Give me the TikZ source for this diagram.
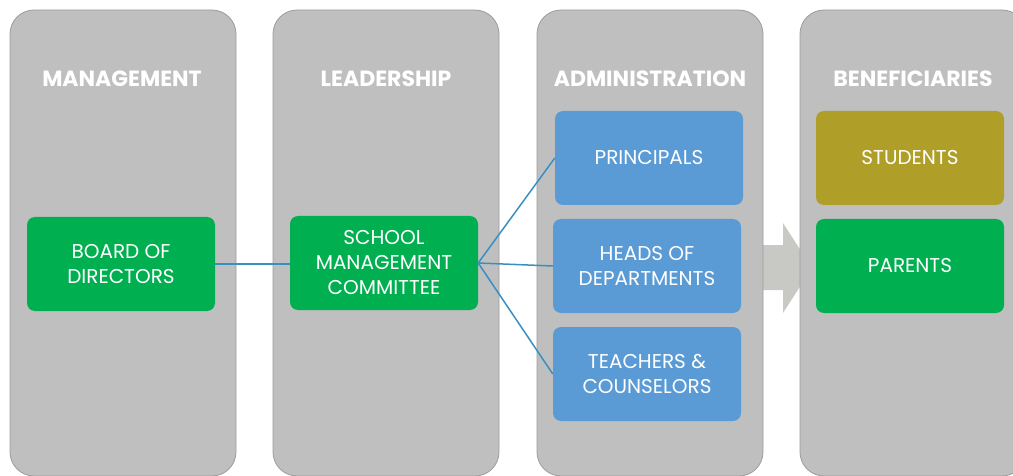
\documentclass[tikz,border=0pt]{standalone}
\usepackage{fontspec}
\setmainfont{Poppins}
\definecolor{colgray}{HTML}{BFBFBF}
\definecolor{coledge}{HTML}{9C9C9C}
\definecolor{arrgray}{HTML}{C8C8C4}
\definecolor{boxgreen}{HTML}{00B050}
\definecolor{boxblue}{HTML}{5B9BD5}
\definecolor{boxolive}{HTML}{AF9F29}
\definecolor{linkblue}{HTML}{3A8FC2}
\begin{document}
\begin{tikzpicture}[x=1pt,y=-1pt,
  col/.style={fill=colgray,draw=coledge,line width=0.8pt,rounded corners=24pt},
  head/.style={text=white,font=\bfseries\fontsize{22}{24}\selectfont},
  box/.style={rounded corners=8pt,minimum width=188pt,minimum height=94pt,
    inner sep=0pt,text=white,align=center,font=\fontsize{20}{25}\selectfont},
  link/.style={draw=linkblue,line width=1.5pt}]
\useasboundingbox (0,0) rectangle (1013,476);
\clip (0,0) rectangle (1013,476);
% block arrow
\fill[arrgray] (750,245)--(783,245)--(783,223)--(812,268)--(783,313)--(783,290)--(750,290)--cycle;
% columns
\draw[col] (10,10) rectangle (236,476);
\draw[col] (273,10) rectangle (499,476);
\draw[col] (537,10) rectangle (763,476);
\draw[col] (800,10) rectangle (1026,476);
\node[head] (mgmt)at(122,79){MANAGEMENT};
\node[head] (lead)at(386,79){LEADERSHIP};
\node[head] (admin)at(650,79){ADMINISTRATION};
\node[head] (benef)at(913,79){BENEFICIARIES};
% boxes
\node[box,fill=boxgreen] (board)at(121,264){BOARD OF\\DIRECTORS};
\node[box,fill=boxgreen] (smc)at(384,263){SCHOOL\\MANAGEMENT\\COMMITTEE};
\node[box,fill=boxblue] (princ)at(649,158){PRINCIPALS};
\node[box,fill=boxblue] (hod)at(647,266){HEADS OF\\DEPARTMENTS};
\node[box,fill=boxblue] (teach)at(647,374){TEACHERS \&\\COUNSELORS};
\node[box,fill=boxolive] (stud)at(910,158){STUDENTS};
\node[box,fill=boxgreen] (par)at(910,266){PARENTS};
% links
\draw[link] (board.east) -- (smc.west|-board.east);
\draw[link] (smc.east) -- (princ.west);
\draw[link] (smc.east) -- (hod.west);
\draw[link] (smc.east) -- (teach.west);
\end{tikzpicture}
\end{document}
